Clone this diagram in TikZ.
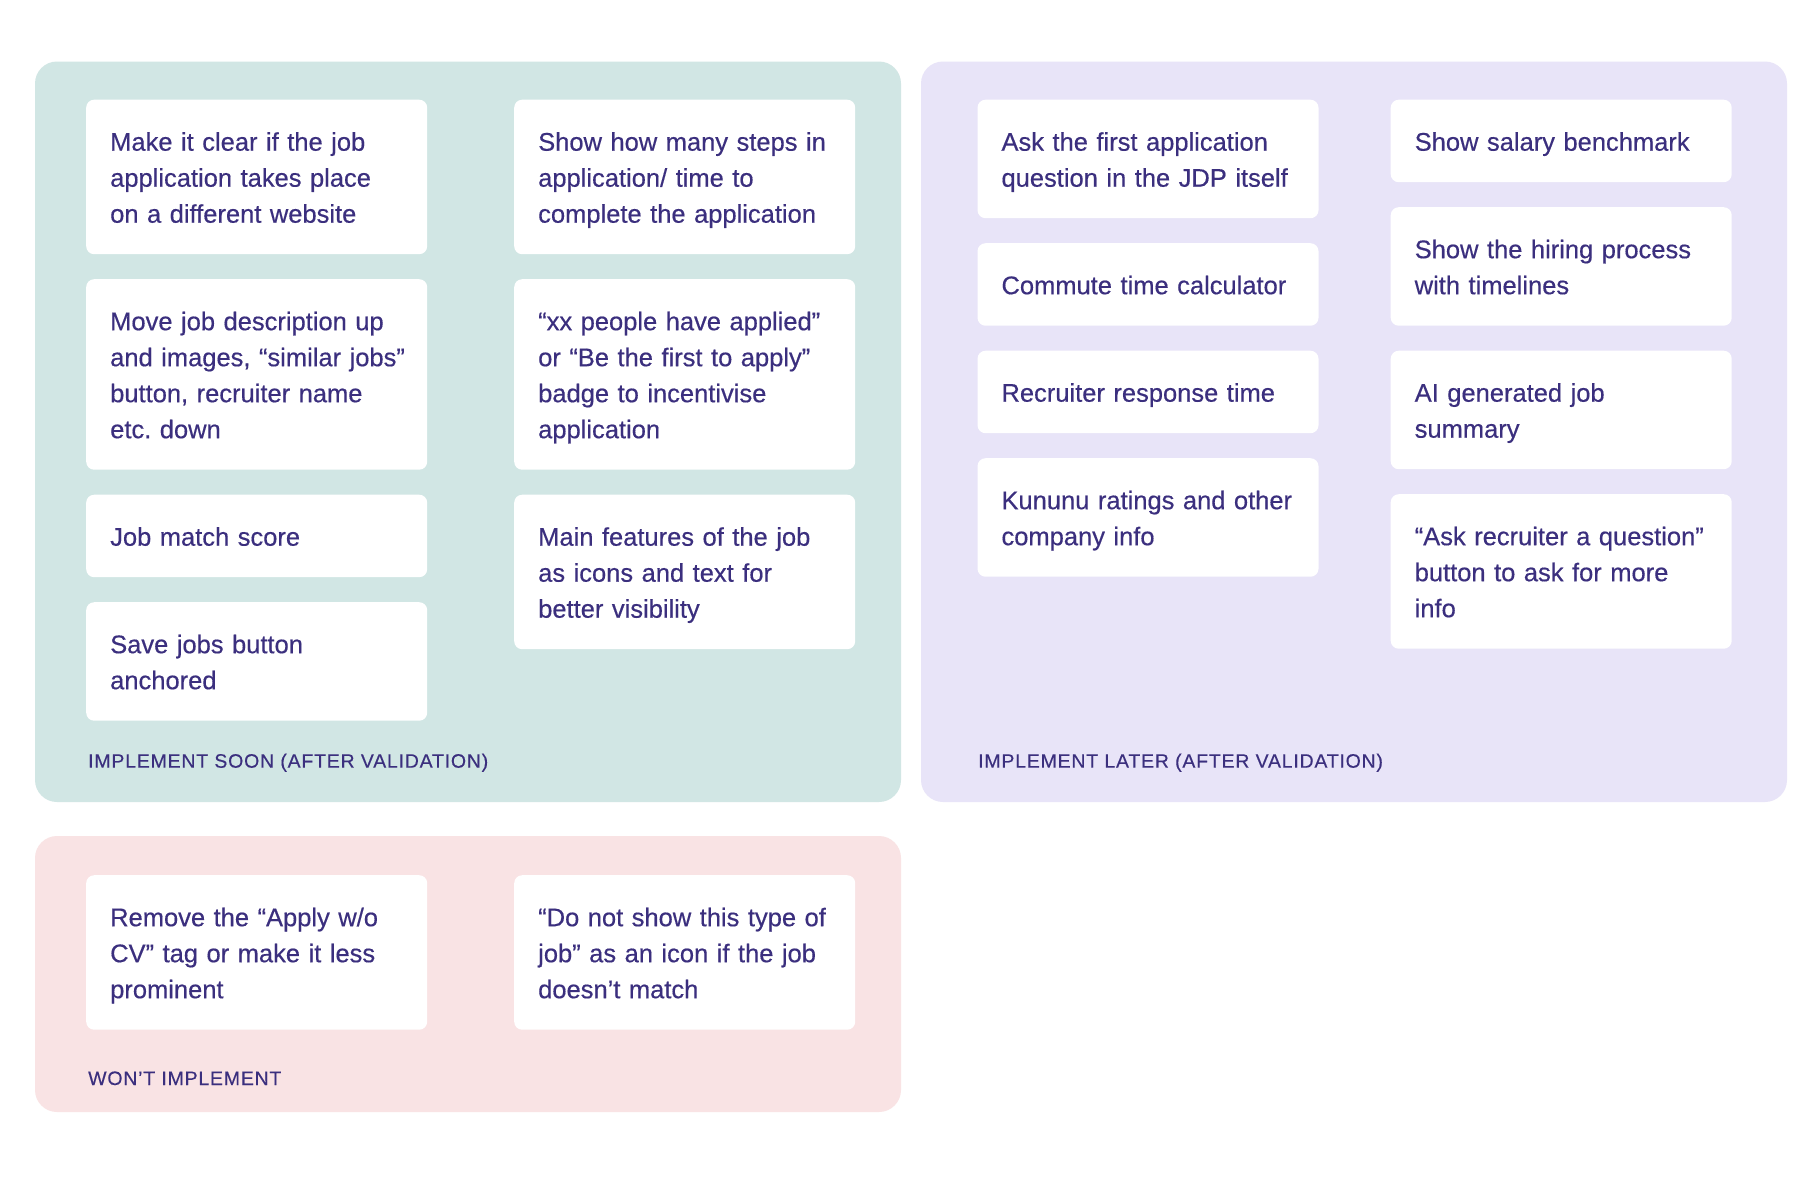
\documentclass[tikz,border=0pt]{standalone}
\usepackage{fontspec}
\setmainfont[FakeBold=0.4]{Liberation Sans}
\newfontfamily\labelfont[LetterSpace=4,FakeBold=0.3]{Liberation Sans}
\frenchspacing
\definecolor{ink}{HTML}{3B2F7E}
\definecolor{soonbg}{HTML}{D1E6E4}
\definecolor{laterbg}{HTML}{E8E4F8}
\definecolor{wontbg}{HTML}{F9E3E4}
\newcommand\cl[1]{\rule[-8.25pt]{0pt}{36pt}\mbox{#1}}
\tikzset{
  panel/.style={rounded corners=22pt},
  card/.style={fill=white, rounded corners=8pt, anchor=north west,
    text width=293pt, inner xsep=24pt, inner ysep=23.25pt, align=left,
    text=ink, font=\fontsize{25.5}{36}\selectfont},
  plabel/.style={anchor=base west, inner sep=0pt, text=ink,
    font=\labelfont\fontsize{19.5}{24}\selectfont}
}
\begin{document}
\begin{tikzpicture}[x=1pt,y=-1pt]
\useasboundingbox (0,0) rectangle (1820,1200);
\fill[white] (0,0) rectangle (1820,1200);
% panels
\fill[soonbg, panel] (35,61.5) rectangle (901,802);
\fill[laterbg, panel] (921,61.5) rectangle (1787,802);
\fill[wontbg, panel] (35,836) rectangle (901,1112);
% green left column
\node[card] (g1) at (86,99.5) {\cl{Make it clear if the job}\\\cl{application takes place}\\\cl{on a different website}};
\node[card] (g2) at (86,279) {\cl{Move job description up}\\\cl{and images, “similar jobs”}\\\cl{button, recruiter name}\\\cl{etc. down}};
\node[card] (g3) at (86,494.5) {\cl{Job match score}};
\node[card] (g4) at (86,602) {\cl{Save jobs button}\\\cl{anchored}};
% green right column
\node[card] (g5) at (514,99.5) {\cl{Show how many steps in}\\\cl{application/ time to}\\\cl{complete the application}};
\node[card] (g6) at (514,279) {\cl{“xx people have applied”}\\\cl{or “Be the first to apply”}\\\cl{badge to incentivise}\\\cl{application}};
\node[card] (g7) at (514,494.5) {\cl{Main features of the job}\\\cl{as icons and text for}\\\cl{better visibility}};
% purple left column
\node[card] (p1) at (977.3,99.5) {\cl{Ask the first application}\\\cl{question in the JDP itself}};
\node[card] (p2) at (977.3,243) {\cl{Commute time calculator}};
\node[card] (p3) at (977.3,350.5) {\cl{Recruiter response time}};
\node[card] (p4) at (977.3,458) {\cl{Kununu ratings and other}\\\cl{company info}};
% purple right column
\node[card] (p5) at (1390.5,99.5) {\cl{Show salary benchmark}};
\node[card] (p6) at (1390.5,207) {\cl{Show the hiring process}\\\cl{with timelines}};
\node[card] (p7) at (1390.5,350.5) {\cl{AI generated job}\\\cl{summary}};
\node[card] (p8) at (1390.5,494) {\cl{“Ask recruiter a question”}\\\cl{button to ask for more}\\\cl{info}};
% pink
\node[card] (r1) at (86,875) {\cl{Remove the “Apply w/o}\\\cl{CV” tag or make it less}\\\cl{prominent}};
\node[card] (r2) at (514,875) {\cl{“Do not show this type of}\\\cl{job” as an icon if the job}\\\cl{doesn’t match}};
% labels
\node[plabel] (lsoon) at (88,767.7) {IMPLEMENT SOON (AFTER VALIDATION)};
\node[plabel] (llater) at (978,767.7) {IMPLEMENT LATER (AFTER VALIDATION)};
\node[plabel] (lwont) at (88,1085) {WON’T IMPLEMENT};
\end{tikzpicture}
\end{document}
